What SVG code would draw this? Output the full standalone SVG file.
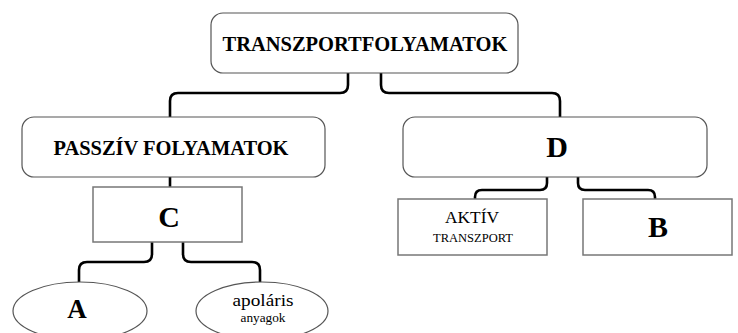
<svg xmlns="http://www.w3.org/2000/svg" width="738" height="333" viewBox="0 0 738 333">
<style>
.rbox{fill:#fff;stroke:#555;stroke-width:1.2}
.box{fill:#fff;stroke:#777;stroke-width:1.5}
.ell{fill:#fff;stroke:#555;stroke-width:1.2}
.conn{fill:none;stroke:#000;stroke-width:2.6}
.t{font-family:'Liberation Serif','Times New Roman',serif;fill:#000;text-anchor:middle}
.b{font-weight:bold}
</style>
<rect width="738" height="333" fill="#fff"/>
<g id="connectors">
<path class="conn" d="M348,73 V85 Q348,93 340,93 H178 Q170,93 170,101 V117"/>
<path class="conn" d="M381,73 V85 Q381,93 389,93 H552 Q560,93 560,101 V117"/>
<path class="conn" d="M170,177 V187"/>
<path class="conn" d="M152,242 V254 Q152,262 144,262 H87 Q79,262 79,270 V282"/>
<path class="conn" d="M183,242 V254 Q183,262 191,262 H252 Q260,262 260,270 V282"/>
<path class="conn" d="M547,177 V183 Q547,190 540,190 H482 Q475,190 475,197 V199"/>
<path class="conn" d="M578,177 V183 Q578,190 585,190 H648 Q655,190 655,197 V199"/>
</g>
<g id="node-top">
<rect class="rbox" x="211" y="13" width="307" height="60" rx="12"/>
<text class="t b" x="365" y="51" font-size="20" textLength="285" lengthAdjust="spacingAndGlyphs">TRANSZPORTFOLYAMATOK</text>
</g>
<g id="node-passziv">
<rect class="rbox" x="22" y="117" width="303" height="60" rx="12"/>
<text class="t b" x="171" y="155" font-size="20" textLength="235" lengthAdjust="spacingAndGlyphs">PASSZÍV FOLYAMATOK</text>
</g>
<g id="node-D">
<rect class="rbox" x="403" y="117" width="304" height="60" rx="12"/>
<text class="t b" x="557" y="157" font-size="30">D</text>
</g>
<g id="node-C">
<rect class="box" x="93" y="187" width="149" height="55"/>
<text class="t b" x="169" y="227" font-size="30">C</text>
</g>
<g id="node-aktiv">
<rect class="box" x="398" y="199" width="149" height="56"/>
<text class="t" x="472" y="223" font-size="17" textLength="54" lengthAdjust="spacingAndGlyphs">AKTÍV</text>
<text class="t" x="473" y="242" font-size="12.5" textLength="80" lengthAdjust="spacingAndGlyphs">TRANSZPORT</text>
</g>
<g id="node-B">
<rect class="box" x="583" y="199" width="149" height="56"/>
<text class="t b" x="658" y="237" font-size="30">B</text>
</g>
<g id="node-A">
<ellipse class="ell" cx="80" cy="311" rx="67" ry="29"/>
<text class="t b" x="77" y="318" font-size="27">A</text>
</g>
<g id="node-apolaris">
<ellipse class="ell" cx="262" cy="311" rx="66" ry="29"/>
<text class="t" x="263" y="306" font-size="17" textLength="61" lengthAdjust="spacingAndGlyphs">apoláris</text>
<text class="t" x="263" y="322" font-size="12" textLength="45" lengthAdjust="spacingAndGlyphs">anyagok</text>
</g>
</svg>
